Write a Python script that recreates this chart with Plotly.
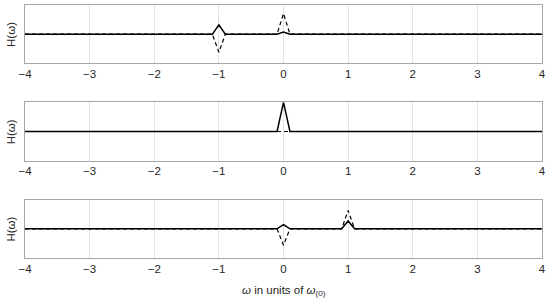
import plotly.graph_objects as go
from plotly.subplots import make_subplots

# Sampled spectrum (step 0.1 in omega); only non-zero samples listed plus endpoints
x1 = [-4, -1.1, -1.0, -0.9, -0.1, 0.0, 0.1, 4]
re1 = [0, 0, 0.32, 0, 0, 0.07, 0, 0]
im1 = [0, 0, -0.62, 0, 0, 0.71, 0, 0]

x2 = [-4, -0.1, 0.0, 0.1, 4]
re2 = [0, 0, 1.0, 0, 0]
im2 = [0, 0, 0, 0, 0]

x3 = [-4, -0.1, 0.0, 0.1, 0.9, 1.0, 1.1, 4]
re3 = [0, 0, 0.14, 0, 0, 0.27, 0, 0]
im3 = [0, 0, -0.56, 0, 0, 0.63, 0, 0]

xticks = [-4, -3, -2, -1, 0, 1, 2, 3, 4]
ticklabels = ["\u22124", "\u22123", "\u22122", "\u22121", "0", "1", "2", "3", "4"]

fig = make_subplots(rows=3, cols=1, vertical_spacing=0.154)

panels = [(x1, re1, im1), (x2, re2, im2), (x3, re3, im3)]
for i, (xs, re, im) in enumerate(panels, start=1):
    fig.add_trace(go.Scatter(x=xs, y=re, mode="lines",
                             line=dict(color="black", width=1.5),
                             showlegend=False), row=i, col=1)
    fig.add_trace(go.Scatter(x=xs, y=im, mode="lines",
                             line=dict(color="black", width=1.2, dash="4px,3px"),
                             showlegend=False), row=i, col=1)
    fig.update_xaxes(range=[-4, 4], tickvals=xticks, ticktext=ticklabels,
                     showgrid=True, gridcolor="#e3e3e3", gridwidth=1,
                     showline=True, linecolor="#a6a6a6", linewidth=1, mirror=True,
                     zeroline=False, ticks="", automargin=False, ticklabeloverflow="allow",
                     tickfont=dict(size=11.5, color="#262626"),
                     row=i, col=1)
    fig.update_yaxes(range=[-1, 1], showticklabels=False, showgrid=False,
                     showline=True, linecolor="#a6a6a6", linewidth=1, mirror=True,
                     zeroline=False, ticks="", automargin=False,
                     row=i, col=1)
    yref = "y domain" if i == 1 else f"y{i} domain"
    fig.add_annotation(text="H(\u03c9)", xref="paper", yref=yref, x=-0.012, y=0.5,
                       xanchor="right", yanchor="middle", textangle=-90, showarrow=False,
                       font=dict(size=11.5, color="#262626"))

fig.add_annotation(text="<i>\u03c9</i> in units of <i>\u03c9</i><sub>(0)</sub>",
                   xref="paper", yref="paper", x=0.5, y=0, yshift=-24,
                   xanchor="center", yanchor="top", showarrow=False,
                   font=dict(size=11.5, color="#262626"))

fig.update_layout(width=550, height=304,
                  margin=dict(l=25, r=8, t=5, b=46),
                  paper_bgcolor="white", plot_bgcolor="white",
                  hovermode=False,
                  font=dict(family="Liberation Sans, Arial, sans-serif", size=11, color="#262626"))

fig.write_html("out.html", config={"displayModeBar": False, "staticPlot": True},
               post_script="document.body.style.margin='0';document.body.style.overflow='hidden';")
